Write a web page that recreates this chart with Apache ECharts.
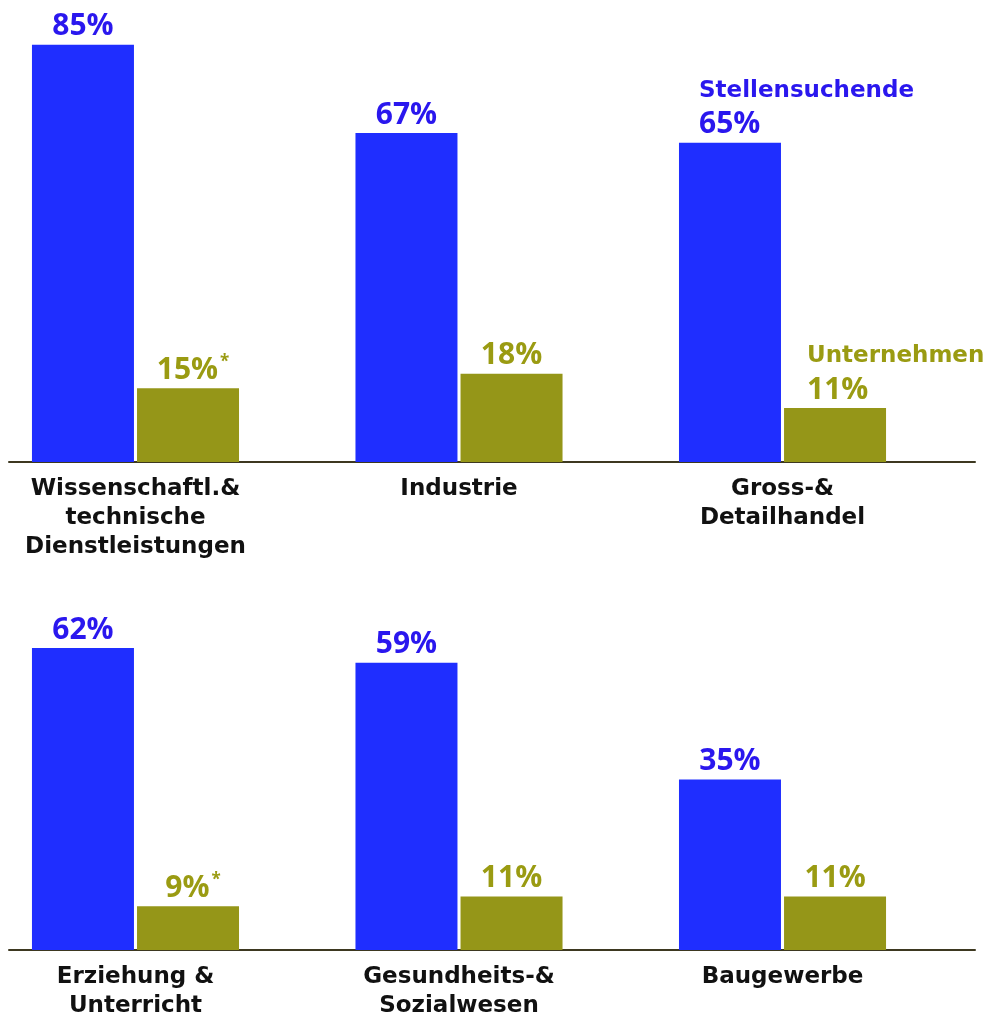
<!DOCTYPE html>
<html>
<head>
<meta charset="utf-8">
<script src="https://cdn.jsdelivr.net/npm/echarts@6/dist/echarts.min.js"></script>
<style>
  html, body { margin: 0; padding: 0; background: #fff; }
  #main { width: 990px; height: 1021px; }
</style>
</head>
<body>
<div id="main"></div>
<script>
(function () {

// data
var topCategories = ['Wissenschaftl.&\ntechnische\nDienstleistungen', 'Industrie', 'Gross-&\nDetailhandel'];
var topSeekers = [85, 67, 65];
var topCompanies = [15, 18, 11];
var topCompaniesNote = ['*', '', ''];

var bottomCategories = ['Erziehung &\nUnterricht', 'Gesundheits-&\nSozialwesen', 'Baugewerbe'];
var bottomSeekers = [62, 59, 35];
var bottomCompanies = [9, 11, 11];
var bottomCompaniesNote = ['*', '', ''];

var seriesNames = ['Stellensuchende', 'Unternehmen'];
var groupPositions = [0, 1, 2];

var BLUE = '#1f2eff';
var BLUE_TEXT = '#2a17ee';
var OLIVE = '#959618';
var OLIVE_TEXT = '#9a9b12';
var NUM_FONT = 'Open Sans';
var TEXT_FONT = 'DejaVu Sans';

var myChart = echarts.init(document.getElementById('main'), null, { renderer: 'canvas' });

function valueRich(color) {
    return {
        v: { color: color, fontFamily: NUM_FONT, fontWeight: 'bold', fontSize: 30, lineHeight: 34 },
        s: { color: color, fontFamily: NUM_FONT, fontWeight: 'bold', fontSize: 17, lineHeight: 34, verticalAlign: 'top', padding: [0, 0, 10, 2] },
        n: { color: color, fontFamily: TEXT_FONT, fontWeight: 'bold', fontSize: 23, lineHeight: 33 }
    };
}

// the last group of the top row carries the series names (acts as legend)
function seekerData(values, withName) {
    return values.map(function (v, i) {
        var item = { value: [groupPositions[i], v] };
        if (withName && i === values.length - 1) {
            item.label = {
                align: 'left',
                offset: [-31, 0],
                formatter: function (p) { return '{n|' + seriesNames[0] + '}\n{v|' + p.value[1] + '%}'; }
            };
        }
        return item;
    });
}

function companyData(values, notes, withName) {
    return values.map(function (v, i) {
        var item = { value: [groupPositions[i], v] };
        if (notes[i]) {
            item.label = {
                offset: [5, 0],
                formatter: function (p) { return '{v|' + p.value[1] + '%}{s|' + notes[i] + '}'; }
            };
        }
        if (withName && i === values.length - 1) {
            item.label = {
                align: 'left',
                offset: [-28, 0],
                formatter: function (p) { return '{n|' + seriesNames[1] + '}\n{v|' + p.value[1] + '%}'; }
            };
        }
        return item;
    });
}

function groupAxis(gridIndex, names) {
    return {
        type: 'value', gridIndex: gridIndex,
        min: -0.391, max: 2.595,
        axisLine: { show: true, onZero: false, lineStyle: { color: '#3d3820', width: 2 } },
        axisTick: { show: false },
        splitLine: { show: false },
        axisLabel: {
            show: true,
            customValues: groupPositions,
            formatter: function (val) {
                var i = groupPositions.indexOf(Math.round(val));
                return i >= 0 ? names[i] : '';
            },
            color: '#111',
            fontFamily: TEXT_FONT,
            fontWeight: 'bold',
            fontSize: 23,
            lineHeight: 29,
            margin: 13
        }
    };
}

function hiddenY(gridIndex, max) {
    return {
        type: 'value', gridIndex: gridIndex, min: 0, max: max,
        axisLine: { show: false }, axisTick: { show: false },
        axisLabel: { show: false }, splitLine: { show: false }
    };
}

function barSeries(name, color, textColor, xi, data) {
    return {
        name: name, type: 'bar', xAxisIndex: xi, yAxisIndex: xi,
        data: data, barWidth: 102, barGap: '3%',
        itemStyle: { color: color },
        label: {
            show: true, position: 'top', distance: 1,
            formatter: function (p) { return '{v|' + p.value[1] + '%}'; },
            rich: valueRich(textColor)
        },
        z: 3
    };
}

var option = {
    animation: false,
    grid: [
        { left: 9, right: 15, top: 0, height: 462 },
        { left: 9, right: 15, top: 463, height: 487 }
    ],
    xAxis: [
        groupAxis(0, topCategories),
        groupAxis(1, bottomCategories)
    ],
    yAxis: [
        hiddenY(0, 94.1), hiddenY(1, 100)
    ],
    series: [
        barSeries(seriesNames[0], BLUE, BLUE_TEXT, 0, seekerData(topSeekers, true)),
        barSeries(seriesNames[1], OLIVE, OLIVE_TEXT, 0, companyData(topCompanies, topCompaniesNote, true)),
        barSeries(seriesNames[0], BLUE, BLUE_TEXT, 1, seekerData(bottomSeekers, false)),
        barSeries(seriesNames[1], OLIVE, OLIVE_TEXT, 1, companyData(bottomCompanies, bottomCompaniesNote, false))
    ]
};

myChart.setOption(option);
window.addEventListener('resize', myChart.resize);

})();
</script>
</body>
</html>
